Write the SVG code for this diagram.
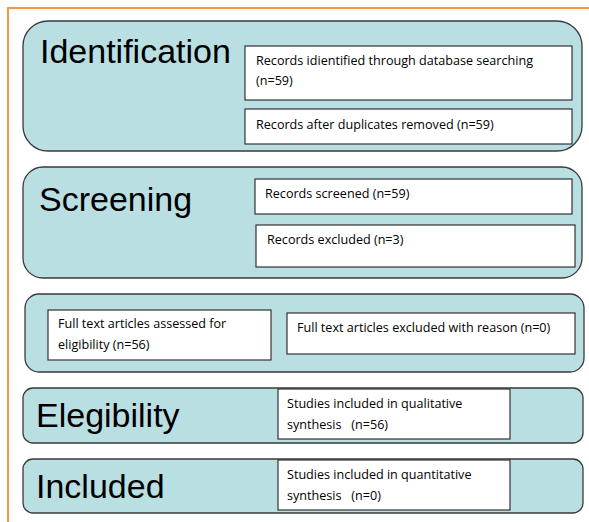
<svg xmlns="http://www.w3.org/2000/svg" width="589" height="522" viewBox="0 0 589 522">
<style>
.panel{fill:#B9DFE3;stroke:#3a3a3a;stroke-width:1.3}
.box{fill:#ffffff;stroke:#333333;stroke-width:1.2}
.big{font-family:"Liberation Sans",Arial,sans-serif;font-size:34px;fill:#000}
.sm{font-family:"Open Sans","Liberation Sans",Arial,sans-serif;font-size:12.6px;fill:#000}
</style>
<rect width="589" height="522" fill="#ffffff"/>
<g id="frame">
<path d="M8,522 L8,8 L589,8" fill="none" stroke="#F79646" stroke-width="2"/>
</g>
<g id="identification">
<rect class="panel" x="23" y="21" width="559" height="130" rx="25" ry="25"/>
<text class="big" x="40" y="63">Identification</text>
</g>
<g id="records-identified">
<rect class="box" x="245" y="46" width="327" height="54"/>
<text class="sm" x="256" y="65">Records idientified through database searching</text>
<text class="sm" x="256" y="85">(n=59)</text>
</g>
<g id="records-after-duplicates">
<rect class="box" x="245" y="109" width="327" height="35"/>
<text class="sm" x="256" y="129">Records after duplicates removed (n=59)</text>
</g>
<g id="screening">
<rect class="panel" x="23" y="167" width="559" height="111" rx="20" ry="20"/>
<text class="big" x="39" y="211">Screening</text>
</g>
<g id="records-screened">
<rect class="box" x="255" y="179" width="317" height="35"/>
<text class="sm" x="265" y="198">Records screened (n=59)</text>
</g>
<g id="records-excluded">
<rect class="box" x="256" y="225" width="319" height="42"/>
<text class="sm" x="267" y="244">Records excluded (n=3)</text>
</g>
<g id="fulltext">
<rect class="panel" x="25" y="294" width="559" height="78" rx="14" ry="14"/>
</g>
<g id="fulltext-assessed">
<rect class="box" x="48" y="310" width="223" height="50"/>
<text class="sm" x="58" y="328">Full text articles assessed for</text>
<text class="sm" x="58" y="349">eligibility (n=56)</text>
</g>
<g id="fulltext-excluded">
<rect class="box" x="287" y="313" width="288" height="41"/>
<text class="sm" x="297" y="332">Full text articles excluded with reason (n=0)</text>
</g>
<g id="elegibility">
<rect class="panel" x="23" y="388" width="560" height="55" rx="10" ry="10"/>
<text class="big" x="36" y="427">Elegibility</text>
</g>
<g id="qualitative">
<rect class="box" x="278" y="389" width="232" height="50"/>
<text class="sm" x="287" y="408">Studies included in qualitative</text>
<text class="sm" x="287" y="429" xml:space="preserve">synthesis   (n=56)</text>
</g>
<g id="included">
<rect class="panel" x="23" y="459" width="560" height="54" rx="10" ry="10"/>
<text class="big" x="36" y="498">Included</text>
</g>
<g id="quantitative">
<rect class="box" x="278" y="460" width="232" height="50"/>
<text class="sm" x="287" y="479">Studies included in quantitative</text>
<text class="sm" x="287" y="500" xml:space="preserve">synthesis   (n=0)</text>
</g>
<g id="connectors"></g>
</svg>
